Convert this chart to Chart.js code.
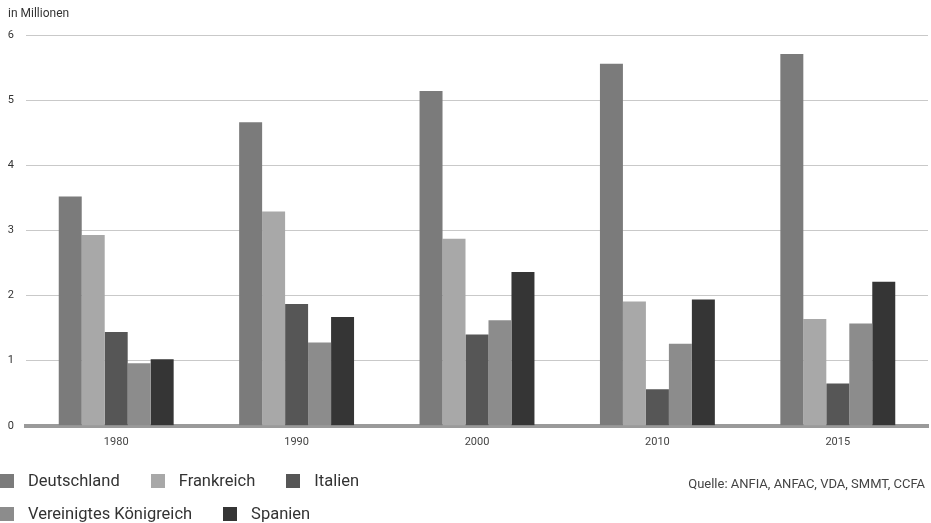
<!DOCTYPE html>
<html lang="de">
<head>
<meta charset="utf-8">
<script src="https://cdn.jsdelivr.net/npm/chart.js@4/dist/chart.umd.min.js"></script>
<style>
  html, body { margin: 0; padding: 0; background: #fff; }
  body { width: 931px; height: 523px; position: relative; overflow: hidden; font-family: Roboto, "Liberation Sans", sans-serif; }
  #wrap { position: absolute; left: 0; top: 0; width: 931px; height: 523px; }
  #unit { position: absolute; left: 8px; top: 6px; font-size: 12px; color: #333; }
  #source { position: absolute; right: 6px; top: 476px; font-size: 13px; color: #444; }
  #legend { position: absolute; left: 0; top: 464px; font-size: 16.5px; color: #333; }
  .row { display: flex; height: 33px; align-items: center; }
  .item { display: flex; align-items: center; margin-right: 31px; }
  .box { width: 14px; height: 14px; margin-right: 14px; }
</style>
</head>
<body>
<div id="wrap"><canvas id="c" width="931" height="523"></canvas></div>
<div id="unit">in Millionen</div>
<div id="legend"></div>
<div id="source">Quelle: ANFIA, ANFAC, VDA, SMMT, CCFA</div>
<script>
// Pkw-Produktion in Millionen
const years = ['1980', '1990', '2000', '2010', '2015'];
const deutschland = [3.52, 4.66, 5.14, 5.56, 5.71];
const frankreich = [2.93, 3.29, 2.87, 1.91, 1.64];
const italien = [1.44, 1.87, 1.40, 0.56, 0.65];
const vereinigtesKoenigreich = [0.96, 1.28, 1.62, 1.26, 1.57];
const spanien = [1.02, 1.67, 2.36, 1.94, 2.21];
const yTicks = [0, 1, 2, 3, 4, 5, 6];

const series = [
  { label: 'Deutschland', data: deutschland, color: '#7b7b7b' },
  { label: 'Frankreich', data: frankreich, color: '#a8a8a8' },
  { label: 'Italien', data: italien, color: '#565656' },
  { label: 'Vereinigtes Königreich', data: vereinigtesKoenigreich, color: '#8c8c8c' },
  { label: 'Spanien', data: spanien, color: '#353535' }
];
const legendRows = [[0, 1, 2], [3, 4]];

Chart.defaults.font.family = 'Roboto, "Liberation Sans", sans-serif';
Chart.defaults.color = '#444';

new Chart(document.getElementById('c'), {
  type: 'bar',
  data: {
    labels: years,
    datasets: series.map(s => ({
      label: s.label,
      data: s.data,
      backgroundColor: s.color,
      borderWidth: 0,
      barPercentage: 1,
      categoryPercentage: 0.637
    }))
  },
  options: {
    responsive: false,
    animation: false,
    layout: { padding: { top: 35, right: 3, bottom: 64, left: 0 } },
    plugins: { legend: { display: false }, tooltip: { enabled: false } },
    scales: {
      x: {
        grid: { display: false, drawTicks: false },
        border: { display: true, color: '#9a9a9a', width: 4 },
        ticks: { font: { size: 11 }, color: '#444', padding: 10 }
      },
      y: {
        min: 0,
        max: 6,
        afterBuildTicks: axis => { axis.ticks = yTicks.map(v => ({ value: v })); },
        afterFit: axis => { axis.width = 26; },
        grid: {
          drawTicks: false,
          color: ctx => (ctx.tick && ctx.tick.value === 0) ? 'rgba(0,0,0,0)' : '#c9c9c9',
          lineWidth: 1
        },
        border: { display: false },
        ticks: { font: { size: 11 }, color: '#333', padding: 12 }
      }
    }
  }
});

// Legend below the plot, built from the series list
const legendEl = document.getElementById('legend');
legendRows.forEach(row => {
  const r = document.createElement('div');
  r.className = 'row';
  row.forEach(i => {
    const it = document.createElement('div');
    it.className = 'item';
    const b = document.createElement('span');
    b.className = 'box';
    b.style.background = series[i].color;
    const t = document.createElement('span');
    t.textContent = series[i].label;
    it.appendChild(b);
    it.appendChild(t);
    r.appendChild(it);
  });
  legendEl.appendChild(r);
});
</script>
</body>
</html>
